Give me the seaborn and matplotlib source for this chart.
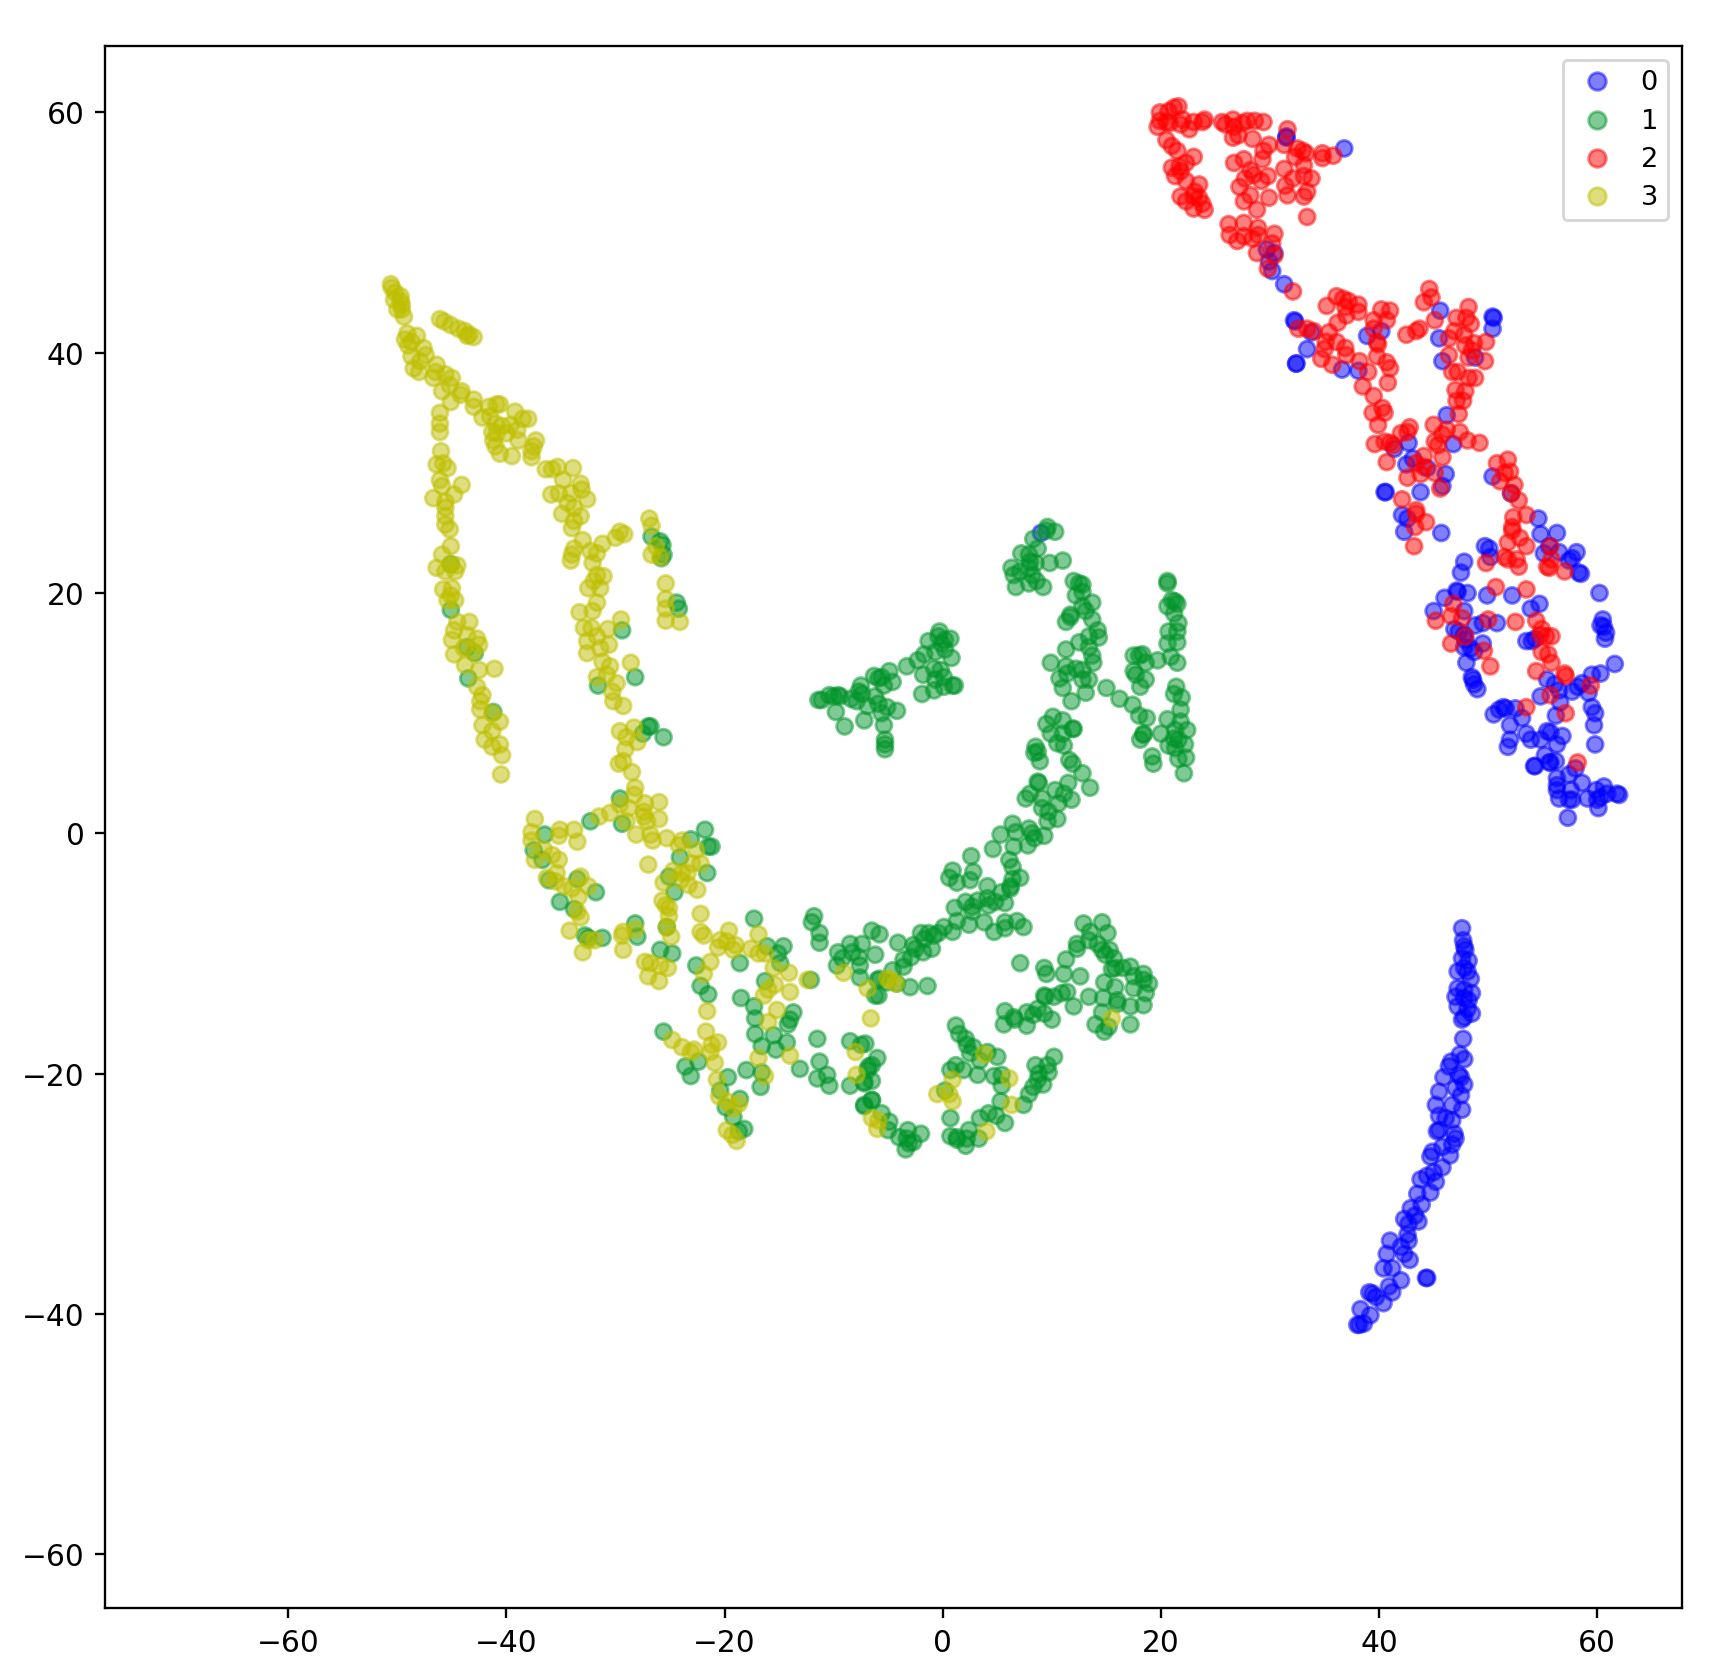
import pandas as pd
import seaborn as sns
import matplotlib.pyplot as plt

# points, one list per class
points_0 = [(31.5,58.0),(31.5,57.9),(36.8,57.0),(29.7,48.6),(30.4,48.3),(29.9,47.6),(30.2,46.8),(31.3,45.7),
    (32.2,42.7),(32.3,42.6),(33.8,41.7),(33.4,40.3),(32.4,39.1),(32.4,39.1),(36.6,38.6),(38.1,38.5),
    (38.9,41.4),(40.2,41.8),(45.6,43.5),(50.4,43.0),(50.5,42.9),(50.4,42.0),(45.5,41.2),(45.8,39.3),(48.8,39.6),(46.2,34.8),
    (42.7,32.5),(41.4,32.0),(46.8,32.4),(43.1,31.2),(42.5,30.7),(44.4,30.4),(46.1,29.9),(45.8,28.9),(43.8,28.4),(40.5,28.4),(40.6,28.4),
    (50.4,29.7),(52.1,28.3),(42.1,26.5),(42.6,26.2),(42.3,25.1),(45.7,25.0),
    (54.6,26.2),(54.8,24.9),(56.3,25.0),(55.6,23.9),(55.1,23.3),(56.5,23.4),(58.1,23.4),(57.4,22.7),(57.7,22.9),(58.5,21.6),(58.3,21.7),
    (49.7,23.9),(50.1,23.7),(50.2,23.0),(47.8,22.6),(47.5,21.7),
    (47.1,20.2),(47.2,20.1),(48.1,20.0),(46.0,19.6),(49.9,19.8),(52.2,19.8),(53.9,18.7),(54.7,19.1),(45.0,18.5),(47.8,18.5),
    (60.2,20.0),(60.5,17.8),(60.3,17.3),(60.6,17.2),(60.8,16.7),(60.7,16.2),(61.6,14.1),
    (48.8,17.3),(49.5,17.5),(50.8,17.5),(46.9,17.0),(47.3,16.8),(47.8,16.5),(47.9,16.1),(49.5,15.8),(47.8,15.5),(48.4,15.4),(48.7,15.1),
    (48.0,14.2),(48.5,13.0),(48.6,12.8),(48.7,12.4),(49.0,12.0),(53.5,16.0),(54.0,16.0),(54.3,16.2),
    (55.4,12.8),(56.1,12.4),(56.5,11.9),(57.7,11.8),(58.2,12.2),(58.6,12.5),(59.5,13.2),(60.3,13.3),(59.2,11.7),(54.8,11.4),(56.6,10.9),(56.2,9.8),
    (50.5,9.9),(51.0,10.3),(51.4,10.5),(51.6,10.4),(52.5,10.4),(53.1,9.6),(52.0,9.0),(52.0,7.8),(51.8,7.2),(53.5,8.3),(53.9,7.8),(54.8,7.8),
    (55.4,8.5),(55.7,8.4),(56.8,8.1),(56.3,7.4),(59.5,10.5),(59.8,10.0),(59.7,9.0),(59.8,7.4),
    (55.2,6.5),(54.2,5.6),(54.3,5.6),(55.6,5.9),(55.7,5.9),(56.2,6.0),(58.0,5.4),(57.4,4.9),(56.3,4.6),(56.3,4.0),(56.3,3.6),(57.6,3.6),(58.6,4.2),
    (56.5,2.9),(57.4,2.8),(57.7,2.8),(59.1,2.9),(59.9,3.6),(60.6,3.9),(60.3,3.0),(60.0,2.8),(60.1,2.1),(60.9,3.3),(61.8,3.3),(62.0,3.2),(57.3,1.3),
    # lower arc
    (47.6,-7.9),(47.7,-8.9),(47.8,-9.4),(47.9,-9.7),(47.6,-10.4),(48.2,-10.6),(47.2,-11.5),(47.8,-11.2),(48.4,-12.1),(48.1,-11.5),
    (47.2,-12.9),(47.8,-13.0),(48.5,-13.3),(47.0,-13.6),(47.8,-13.7),(48.2,-13.9),(47.2,-14.4),(48.1,-14.6),(48.5,-15.0),(47.8,-15.3),(47.6,-15.5),
    (47.7,-17.1),(47.4,-18.4),(47.8,-18.8),(46.6,-19.0),(46.4,-19.4),(45.9,-20.3),(47.3,-20.1),(47.5,-20.3),(47.8,-20.9),(47.0,-21.2),(47.5,-21.8),
    (45.5,-21.5),(45.2,-22.6),(46.7,-22.6),(47.6,-23.0),(45.5,-23.5),(46.1,-23.7),(46.7,-23.9),(45.3,-24.8),(45.5,-24.7),(46.9,-25.0),(47.0,-25.4),
    (46.7,-25.9),(45.8,-26.1),(46.5,-26.8),(44.9,-26.5),(44.7,-26.9),(45.8,-27.8),(45.0,-28.2),(44.4,-28.5),(43.8,-28.8),(45.2,-29.0),(44.7,-29.9),
    (43.5,-30.0),(43.9,-30.9),(42.9,-31.2),(43.3,-31.8),(42.3,-32.1),(43.6,-32.3),(42.7,-32.5),(42.6,-33.4),(41.0,-33.9),(42.7,-33.9),(42.0,-34.4),
    (40.7,-35.0),(42.3,-35.0),(42.8,-35.5),(40.4,-36.2),(41.2,-36.2),(42.0,-37.2),(40.9,-37.7),(39.1,-38.2),(39.4,-38.3),(41.2,-38.2),(39.7,-38.6),
    (40.4,-39.1),(38.3,-39.6),(39.2,-40.1),(38.6,-40.8),(38.0,-40.9),(38.2,-40.9),(44.3,-37.0),(44.4,-37.0),(9.0,25.0)]

points_1 = [(-26.7,24.7),(-25.9,24.3),(-25.7,24.0),(-25.6,23.2),(-25.8,22.9),(-24.4,19.2),(-24.2,18.7),(-45.1,22.4),(-45.1,18.6),(-43.6,15.5),(-42.9,15.0),
    (-43.5,12.9),(-41.2,10.1),(-29.4,16.9),(-28.2,13.0),(-31.6,12.3),(-27.0,8.9),(-26.8,8.9),(-27.5,8.3),(-25.6,8.0),
    (-29.6,2.9),(-32.3,1.0),(-29.4,0.8),(-21.8,0.3),(-23.1,-0.5),(-21.5,-1.1),(-21.2,-1.1),(-24.1,-2.0),(-21.6,-3.3),(-25.1,-3.6),(-24.6,-4.9),
    (-36.5,-0.1),(-37.5,-1.4),(-36.7,-2.2),(-36.1,-3.9),(-33.5,-3.8),(-31.8,-4.9),(-35.1,-5.7),(-33.8,-6.3),(-32.8,-8.5),(-32.5,-8.7),(-31.2,-8.7),
    (-28.2,-7.5),(-28.0,-8.6),(-25.3,-7.8),(-25.9,-9.7),(-24.8,-10.0),(-22.6,-11.0),(-22.2,-12.7),(-21.5,-13.4),(-17.3,-7.1),(-11.8,-6.9),(-12.0,-7.4),
    (-11.3,-8.3),(-11.3,-9.1),(-16.1,-9.4),(-14.6,-9.4),(-15.1,-10.0),(-18.6,-10.8),(-14.9,-10.8),(-16.3,-12.3),(-12.1,-12.2),(-18.5,-13.7),(-17.3,-14.4),
    (-17.2,-15.4),(-13.7,-14.9),(-14.0,-15.5),(-14.2,-15.9),(-25.6,-16.5),(-17.2,-16.7),(-15.5,-16.8),(-16.6,-17.7),(-14.3,-17.4),(-15.3,-18.0),(-11.5,-17.1),
    (-22.4,-19.0),(-23.6,-19.4),(-23.1,-20.2),(-18.0,-19.7),(-16.6,-19.9),(-16.7,-21.1),(-13.1,-19.6),(-11.3,-19.0),(-11.5,-20.4),(-10.6,-20.1),(-10.4,-21.0),
    (-19.7,-20.3),(-20.4,-21.4),(-18.6,-22.1),(-19.9,-22.8),(-19.2,-23.6),(-18.2,-24.6),(-18.7,-24.8),(-8.5,-17.3),(-7.1,-17.5),(-7.5,-17.6),(-6.8,-19.4),
    (-8.5,-21.0),(-7.2,-20.7),(-7.2,-22.6),(-6.5,-22.2),
    (-9.6,-9.9),(-8.5,-9.2),(-7.4,-9.2),(-8.3,-9.9),(-7.7,-10.3),(-9.7,-11.0),(-9.2,-10.4),(-7.6,-11.0),(-6.2,-10.1),(-7.6,-12.0),(-6.0,-12.2),(-6.2,-13.5),
    (-6.5,-8.1),(-5.8,-8.4),(-4.1,-9.1),(-5.8,-12.1),(-5.9,-13.5),(-4.6,-11.4),(-5.1,-12.4),(-4.2,-12.5),(-3.0,-12.8),(-1.4,-12.7),(-3.6,-11.1),(-3.6,-10.5),
    (-2.9,-10.3),(-2.7,-9.3),(-2.5,-9.6),(-1.8,-9.9),(-1.0,-9.6),(-2.0,-8.3),(-1.3,-8.3),(-1.7,-8.8),(-0.8,-8.5),(-0.4,-8.3),(0.1,-7.8),(0.9,-8.2),(1.1,-6.2),
    (1.3,-7.3),(2.1,-5.7),(2.4,-7.6),(2.7,-6.5),(2.7,-6.1),(3.2,-5.6),(3.8,-7.4),(4.1,-4.4),(4.1,-5.4),(4.2,-6.0),(4.8,-5.7),(4.7,-8.2),(5.7,-7.4),(5.7,-7.9),
    (5.7,-5.8),(6.8,-7.3),(7.4,-7.8),(5.4,-4.9),(6.2,-4.4),(7.1,-10.8),
    (12.9,-7.5),(14.6,-7.4),(13.5,-8.2),(15.1,-8.3),(12.3,-9.2),(12.3,-9.6),(13.4,-8.9),(14.2,-9.2),(14.6,-9.7),(15.3,-9.7),(14.9,-10.1),(15.7,-10.4),(15.8,-11.2),
    (16.5,-11.2),(17.2,-11.1),(15.5,-11.3),(17.5,-11.9),(18.4,-11.7),(18.4,-12.2),(18.9,-12.5),(17.5,-12.9),(18.6,-13.3),(18.4,-14.3),(17.2,-14.4),(14.8,-12.4),
    (15.8,-12.8),(14.7,-13.7),(13.4,-13.6),(16.0,-14.2),(16.0,-13.9),(14.6,-14.9),(17.2,-15.9),(14.0,-15.9),(14.8,-16.5),(15.2,-16.1),(11.3,-10.5),(11.1,-11.7),
    (12.6,-11.9),(9.3,-11.2),(9.5,-11.7),(11.4,-13.2),(10.9,-13.3),(10.2,-13.6),(12.0,-14.4),(9.3,-13.5),(9.4,-13.6),(8.7,-14.6),(8.3,-15.1),(10.0,-15.5),(9.3,-15.0),
    (7.7,-14.9),(7.7,-16.0),(5.7,-14.8),(5.6,-15.9),(6.5,-15.3),(6.6,-15.5),
    (-6.0,-18.7),(-6.5,-19.3),(-6.9,-19.7),(-7.2,-20.8),(-6.5,-20.6),(-6.5,-22.2),(-7.2,-22.7),(-5.6,-23.3),(-4.9,-24.0),(-5.0,-24.7),(-4.0,-25.3),(-3.2,-24.7),
    (-2.0,-25.0),(-3.4,-26.3),(-3.1,-25.8),(-2.7,-25.7),(-3.3,-25.4),
    (1.2,-16.0),(1.5,-16.7),(2.1,-17.1),(2.2,-17.6),(2.8,-17.8),(2.5,-18.3),(4.1,-18.2),(5.0,-18.6),(3.4,-18.9),(1.9,-19.7),(1.2,-19.3),(0.7,-19.7),(3.2,-20.1),
    (4.7,-20.2),(5.4,-20.1),(5.4,-21.0),(0.2,-21.4),(5.3,-22.3),(0.7,-23.7),(0.7,-25.2),(1.3,-25.3),(1.3,-25.5),(2.1,-26.0),(2.4,-24.7),(2.2,-25.4),(3.3,-25.4),
    (3.4,-23.7),(4.2,-23.3),(4.9,-23.5),(5.7,-24.1),(7.4,-22.6),(7.9,-21.7),(8.3,-21.1),(8.7,-20.5),(9.2,-20.9),(9.7,-19.9),(8.8,-20.0),(8.5,-19.3),(9.6,-19.3),(10.2,-18.6),
    # middle group
    (-11.4,11.1),(-11.1,11.1),(-10.4,11.5),(-10.0,11.4),(-9.6,11.5),(-9.4,11.4),(-9.8,10.1),(-9.0,8.9),(-8.4,11.2),(-7.9,11.0),(-7.5,12.3),(-7.7,11.8),(-7.4,11.6),
    (-7.2,9.4),(-6.9,10.6),(-6.3,13.1),(-5.9,12.9),(-5.4,12.3),(-6.2,11.4),(-4.9,13.5),(-4.6,12.6),(-5.6,13.0),(-5.9,10.8),(-5.1,10.5),(-5.6,10.0),(-4.2,10.2),
    (-5.4,9.0),(-5.3,7.8),(-5.3,7.4),(-5.3,7.0),(-3.3,13.9),(-2.3,14.4),(-1.7,14.9),(-1.8,13.2),(-1.9,11.6),(-1.3,16.0),(-0.3,16.8),(-0.4,16.4),(0.2,16.1),(0.7,16.2),
    (-0.1,15.8),(-0.7,15.1),(0.2,15.3),(0.8,14.6),(-0.8,13.7),(-0.2,13.6),(0.1,13.0),(-0.7,12.8),(0.1,12.2),(-0.8,11.9),(0.9,12.3),(1.1,12.3),
    # right arm
    (9.6,25.5),(9.5,25.2),(10.3,25.1),(8.3,24.5),(8.7,23.7),(7.2,23.3),(7.9,23.2),(8.5,22.5),(8.0,22.6),(9.8,22.5),(11.0,22.7),(6.3,22.1),(6.5,21.5),(7.1,21.8),(7.9,22.1),
    (6.7,20.5),(7.9,20.8),(8.6,21.0),(9.2,20.5),(8.2,21.5),(12.0,21.0),(12.5,20.8),(12.8,20.7),(12.8,20.1),(12.2,19.8),(13.7,19.2),(12.8,18.9),(13.1,18.5),(11.7,18.2),
    (11.3,17.6),(11.7,18.0),(13.7,17.8),(14.2,16.9),(13.4,16.4),(14.3,16.3),(12.5,15.9),(13.4,15.5),(11.3,15.3),(13.7,14.8),(13.8,14.2),(9.9,14.2),(11.3,13.9),(12.2,13.7),
    (12.8,13.6),(10.7,12.9),(11.4,13.3),(13.4,12.8),(12.8,12.8),(13.1,11.7),(11.0,12.1),(11.8,11.0),(15.0,12.1),(16.2,11.2),(17.4,10.7),(18.0,9.8),(18.7,9.6),(18.4,8.3),
    (18.1,7.8),(18.4,8.2),(19.2,6.4),(19.3,5.8),(17.5,14.8),(18.3,14.9),(18.0,14.8),(18.6,14.2),(17.5,13.5),(17.7,13.2),(18.6,12.8),(18.1,12.2),(19.7,14.4),
    (20.6,21.0),(20.6,20.8),(21.0,19.4),(21.3,19.3),(21.5,19.1),(20.6,18.9),(21.2,18.3),(21.6,17.5),(20.7,16.8),(21.5,16.8),(20.6,15.8),(21.5,15.9),(20.9,14.7),(21.5,14.2),
    (21.4,12.2),(21.2,11.6),(21.9,11.3),(21.8,10.3),(20.6,9.5),(21.8,9.3),(20.0,8.3),(22.4,8.6),(21.3,8.6),(21.2,7.9),(20.7,7.3),(21.6,7.8),(22.2,7.4),(21.3,7.1),(21.6,6.2),
    (22.3,6.3),(22.1,5.0),(9.5,9.1),(10.1,9.7),(11.0,9.4),(11.9,8.7),(12.0,8.7),(9.9,8.3),(11.0,8.3),(10.5,7.5),(11.1,7.3),(8.5,7.2),(8.7,6.8),(8.4,6.7),(8.9,6.0),(11.6,6.1),
    (11.9,5.8),(12.8,5.0),(13.5,3.8),(8.7,4.3),(8.8,4.2),(7.6,2.9),(8.0,3.3),(9.1,2.9),(10.3,3.6),(11.5,4.2),(11.1,3.3),(11.8,2.8),(9.1,2.1),(10.6,2.5),(9.7,1.8),(10.5,1.2),
    (9.6,1.0),(6.4,0.8),(6.7,0.1),(5.3,-0.1),(7.9,0.4),(8.2,0.0),(8.4,-0.4),(9.3,-0.2),(7.8,-1.0),(6.5,-1.1),(4.6,-1.3),(6.1,-2.2),(2.6,-1.9),(6.4,-2.8),(7.1,-3.7),(6.4,-3.8),
    (0.9,-3.1),(2.8,-3.2),(0.6,-3.7),(1.3,-4.1),(2.5,-3.9),(6.2,-4.6)]

points_2 = [(19.9,60.0),(20.7,60.1),(21.2,60.4),(21.6,60.5),(19.7,58.8),(19.9,59.3),(20.5,59.2),(20.8,59.1),(22.0,59.4),(21.8,59.0),(22.6,58.6),(23.0,59.2),(23.8,59.2),(24.0,59.4),
    (25.6,59.2),(25.9,59.0),(26.6,59.4),(26.7,58.8),(27.5,59.1),(27.9,59.3),(28.6,59.3),(29.4,59.2),(26.6,57.9),(27.1,58.1),(28.4,57.8),(31.6,58.6),(31.3,57.3),(29.9,57.3),(29.4,56.8),
    (29.3,56.1),(32.5,57.0),(33.0,56.8),(33.3,56.6),(32.3,56.3),(34.8,56.6),(34.8,56.2),(35.8,56.4),(20.5,57.7),(21.0,57.2),(21.5,56.8),(23.0,56.3),(22.3,55.8),(21.7,55.5),(21.0,55.4),
    (21.8,55.1),(21.3,54.7),(22.3,54.3),(23.5,54.0),(23.1,53.4),(21.8,53.0),(22.3,52.6),(23.0,53.0),(23.5,52.9),(23.8,52.4),(23.0,52.0),(24.0,51.9),
    (26.7,55.8),(27.6,56.1),(28.2,55.2),(28.5,54.8),(27.7,54.5),(29.8,54.7),(29.2,54.3),(27.2,53.8),(28.2,53.1),(27.6,52.6),(29.9,52.9),(28.8,51.9),(31.3,55.3),(33.1,55.6),(32.1,54.5),
    (33.1,54.7),(33.8,54.5),(31.4,53.9),(31.6,53.1),(33.1,53.0),(33.4,53.4),(33.4,51.3),(26.2,50.7),(27.6,50.8),(28.9,50.4),(26.3,49.8),(27.0,49.3),(27.6,49.7),(28.4,49.5),(28.9,49.8),
    (30.4,49.9),(30.2,49.1),(28.8,48.3),(30.4,48.1),(29.8,47.0),(32.1,45.1),
    (44.6,45.3),(44.8,44.6),(44.1,44.2),(36.1,44.7),(35.2,43.9),(36.7,44.5),(37.2,44.3),(38.1,44.0),(38.1,43.4),(36.9,43.8),(37.0,43.1),(36.2,42.5),(40.2,43.6),(41.0,43.5),(39.5,42.7),
    (40.7,42.7),(39.5,42.0),(32.6,42.0),(33.4,42.0),(34.0,41.8),(35.4,41.7),(35.1,40.9),(36.1,40.9),(35.0,40.3),(36.9,40.4),(37.0,39.8),(34.7,39.5),(35.7,39.0),(38.2,39.3),(39.0,38.4),
    (39.8,40.9),(39.9,40.7),(39.8,39.7),(40.7,39.2),(41.0,38.7),(40.8,37.5),(38.5,37.2),(39.5,36.4),(40.3,35.4),(40.5,35.0),(39.4,35.0),(39.9,34.0),
    (42.5,41.5),(43.4,41.8),(43.7,42.0),(45.1,42.7),(47.1,42.9),(48.2,43.8),(48.0,42.9),(48.4,42.4),(46.9,41.8),(46.4,41.2),(47.8,41.5),(49.8,40.9),(48.7,40.8),(47.9,40.6),(46.4,39.8),
    (48.5,40.2),(48.2,39.6),(49.7,39.3),(46.7,38.4),(47.2,38.4),(48.2,37.9),(48.8,37.9),(47.0,36.9),(47.9,36.8),(47.1,36.0),(47.7,36.0),(47.3,34.9),(45.0,34.0),(46.2,33.6),(45.8,33.2),
    (47.4,33.4),(48.1,32.7),(49.2,32.5),(45.1,32.6),(45.4,32.3),(45.8,31.3),(42.8,33.8),(42.6,33.4),(42.0,33.3),(39.6,32.4),(40.5,32.6),(41.0,32.5),(41.3,32.3),(44.1,31.4),(43.4,30.8),
    (44.1,30.5),(40.7,30.9),(42.6,29.6),(43.8,29.9),(45.1,30.0),(45.6,28.7),(42.1,27.8),(43.4,26.9),(43.4,26.6),(44.3,25.9),(43.3,25.5),(43.2,23.9),
    (51.8,31.1),(50.8,30.8),(52.0,30.1),(51.5,30.0),(51.1,29.3),(52.4,29.0),(52.1,28.3),(52.8,27.7),(53.5,26.5),(52.3,26.3),(52.2,25.5),(52.2,25.2),(52.9,24.6),(51.8,24.2),(53.5,23.9),
    (55.7,23.9),(51.5,23.0),(51.8,22.8),(52.6,22.8),(52.8,22.2),(49.8,22.5),(55.8,22.8),(55.4,22.2),(55.6,22.1),(57.0,21.8),
    (50.7,20.5),(53.5,20.3),(46.8,19.1),(46.6,18.1),(47.6,17.9),(45.2,17.7),(50.0,17.8),(52.5,17.6),(54.4,17.7),(54.9,17.0),(54.8,16.5),(55.3,16.4),(55.8,16.4),(47.9,16.4),(46.6,15.8),
    (49.6,15.2),(54.9,15.1),(55.5,14.9),(55.8,14.2),(50.2,13.9),(54.4,13.5),(57.0,13.3),(57.1,13.1),(59.4,12.3),(55.7,11.5),(53.5,10.5),(57.1,10.0),(58.2,5.9)]

points_3 = [(-50.6,45.7),(-50.5,45.4),(-50.2,45.0),(-49.7,44.7),(-50.3,44.4),(-49.7,44.3),(-49.6,44.0),(-50.0,43.6),(-49.6,43.6),(-49.4,43.0),
    (-46.1,42.8),(-45.7,42.6),(-45.1,42.3),(-44.4,42.0),(-43.8,41.8),(-43.4,41.5),(-43.0,41.3),(-43.6,41.4),
    (-49.1,41.6),(-48.2,41.4),(-49.3,41.1),(-48.7,40.9),(-49.0,40.6),(-47.6,40.4),(-48.7,39.7),(-47.4,39.8),(-47.9,39.3),(-48.5,38.7),(-48.0,38.4),(-46.4,39.0),(-46.5,38.4),(-46.7,37.9),
    (-45.6,38.2),(-45.0,37.9),(-45.2,37.3),(-45.9,36.8),(-44.1,36.8),(-44.2,36.5),(-45.1,35.9),(-43.0,36.1),(-43.0,35.5),(-46.1,35.0),(-46.1,34.1),(-46.1,33.4),
    (-42.2,34.6),(-41.6,35.5),(-40.9,35.7),(-40.6,35.7),(-41.5,34.7),(-39.2,35.1),(-38.5,34.5),(-38.0,34.5),(-41.0,34.1),(-40.4,33.9),(-39.6,34.0),(-39.0,33.6),(-41.3,33.4),(-40.9,33.3),
    (-41.2,32.7),(-40.0,33.3),(-38.9,32.7),(-41.0,32.2),(-40.6,31.6),(-39.5,31.4),(-37.3,32.7),(-37.5,32.2),(-37.7,31.8),(-37.7,31.3),
    (-46.0,31.8),(-46.4,30.7),(-45.8,30.8),(-45.4,30.4),(-46.1,29.4),(-44.1,29.0),(-45.9,28.9),(-46.7,27.9),(-44.8,28.2),(-45.6,27.6),(-45.6,27.1),(-45.6,26.4),(-45.6,25.7),(-45.2,25.3),
    (-36.4,30.3),(-35.8,30.3),(-35.3,30.5),(-33.9,30.4),(-34.8,29.4),(-33.2,29.1),(-35.2,28.3),(-35.9,28.2),(-34.1,28.3),(-33.1,28.6),(-32.6,27.8),(-34.4,27.5),(-34.9,26.6),(-33.8,27.1),
    (-33.2,26.4),(-33.8,26.0),(-34.0,25.4),(-33.0,24.4),(-33.8,23.7),(-34.0,23.2),(-34.1,22.7),(-32.3,23.5),(-31.2,24.1),(-30.0,24.6),(-29.6,25.1),(-29.2,24.9),(-31.7,23.3),(-32.1,22.5),
    (-31.7,21.5),(-31.1,21.4),(-32.5,20.4),(-31.4,20.4),(-32.0,21.0),(-31.7,19.2),(-33.3,18.4),(-32.1,18.5),(-32.9,17.1),(-32.2,17.1),(-30.7,17.0),(-31.7,16.4),(-32.6,16.0),(-30.6,15.7),
    (-32.6,15.0),(-31.4,15.4),(-31.2,14.3),(-30.5,13.9),(-31.7,13.0),(-30.8,13.2),(-29.9,12.5),(-30.3,11.8),(-30.2,11.0),(-29.3,10.6),(-29.5,17.8),(-28.6,14.2),
    (-26.9,26.2),(-26.7,25.6),(-26.3,23.9),(-26.7,23.2),(-25.9,23.0),(-25.4,20.8),(-25.4,19.5),(-25.4,18.7),(-25.4,17.7),(-24.1,17.6),
    (-45.1,23.9),(-45.9,23.2),(-44.5,22.3),(-46.4,22.1),(-45.1,22.4),(-45.6,21.8),(-44.7,21.8),(-45.8,20.3),(-45.0,20.4),(-45.1,19.8),(-44.7,19.4),(-45.4,19.4),
    (-43.4,17.6),(-44.5,17.6),(-44.8,16.9),(-45.0,16.1),(-43.6,16.5),(-42.5,15.7),(-42.7,16.2),(-44.8,14.9),(-43.9,15.4),(-43.0,15.1),(-43.8,14.0),(-42.5,13.6),(-41.1,13.7),(-42.7,12.2),
    (-42.2,11.5),(-42.4,11.0),(-42.4,10.3),(-41.3,10.0),(-40.6,9.3),(-42.2,9.0),(-41.3,8.5),(-42.0,7.8),(-40.6,7.4),(-41.3,7.2),(-40.4,6.5),(-40.5,4.9),
    (-29.6,8.5),(-28.3,8.8),(-29.0,8.0),(-28.0,7.6),(-29.1,7.0),(-29.7,5.8),(-29.3,6.0),(-28.5,5.1),
    (-28.2,3.8),(-28.3,3.2),(-26.0,2.6),(-27.3,2.5),(-29.6,2.4),(-28.8,2.1),(-30.5,1.7),(-31.5,1.4),(-27.4,1.8),(-26.0,1.2),(-27.4,1.4),(-27.1,1.0),(-29.0,1.0),(-28.1,-0.1),(-26.8,-0.1),
    (-26.6,-0.6),(-25.3,-0.4),(-23.9,-0.6),(-24.2,-1.0),(-22.6,-1.4),(-27.0,-2.6),
    (-37.4,1.2),(-37.7,0.1),(-37.7,-0.6),(-35.1,0.3),(-35.2,-0.2),(-33.8,0.3),(-33.5,-0.7),(-36.6,-1.3),(-37.4,-2.2),(-35.8,-1.8),(-35.2,-2.2),(-36.3,-3.7),(-35.4,-3.3),(-35.5,-4.0),
    (-34.7,-4.4),(-33.2,-3.6),(-34.0,-4.6),(-32.5,-4.4),(-33.4,-5.3),(-33.5,-6.5),(-33.2,-7.0),(-34.2,-8.1),(-32.5,-8.9),(-31.9,-8.9),(-33.0,-9.9),
    (-29.3,-8.2),(-29.4,-8.5),(-28.2,-8.0),(-29.3,-9.7),(-27.3,-10.7),(-26.8,-10.8),(-25.9,-11.0),(-25.2,-11.2),(-27.0,-11.9),(-26.0,-12.3),
    (-22.2,-6.7),(-22.2,-8.2),(-21.9,-8.5),(-24.7,-3.1),(-23.9,-3.3),(-25.6,-4.1),(-24.0,-3.9),(-23.3,-4.3),(-22.5,-4.7),(-23.0,-2.5),(-22.2,-2.5),(-23.4,-3.3),(-25.7,-5.6),(-25.1,-6.2),
    (-25.4,-6.0),(-25.1,-6.9),(-25.3,-7.8),(-24.9,-8.6),
    (-19.6,-8.1),(-20.4,-8.9),(-20.6,-9.5),(-19.8,-9.0),(-19.0,-9.3),(-19.2,-9.7),(-16.9,-8.4),(-17.6,-9.6),(-16.9,-10.0),(-16.3,-10.0),(-21.3,-10.7),(-21.9,-11.7),(-15.5,-11.2),(-14.1,-11.6),
    (-12.4,-12.2),(-15.4,-12.6),(-16.0,-13.0),(-16.4,-13.5),(-14.0,-13.2),(-21.6,-14.8),(-15.2,-14.7),(-16.0,-15.7),(-21.7,-16.5),(-24.8,-17.2),(-23.9,-17.8),(-22.8,-18.0),(-23.1,-18.2),
    (-20.6,-17.4),(-21.2,-17.6),(-21.3,-18.2),(-20.9,-19.1),(-16.9,-18.7),(-14.0,-18.5),(-20.7,-20.5),(-16.3,-20.2),(-20.5,-21.9),(-19.8,-22.3),(-18.7,-22.5),(-19.2,-22.9),(-19.8,-24.7),
    (-19.3,-25.1),(-18.9,-25.6),
    (-9.1,-11.6),(-6.9,-12.9),(-4.8,-12.2),(-5.1,-12.1),(-4.3,-12.5),(-6.6,-15.4),(-8.0,-18.2),(-7.9,-20.1),(-6.5,-23.7),(-5.9,-23.9),(-6.0,-24.6),(3.8,-18.4),(0.9,-20.5),(-0.5,-21.7),
    (0.6,-21.7),(0.9,-22.3),(6.1,-20.4),(6.3,-22.6),(4.0,-24.8),(15.5,-15.4)]

labels = ['0', '1', '2', '3']
colors = ['b', '#00952a', 'r', 'y']
xticks = [-60, -40, -20, 0, 20, 40, 60]
yticks = [-60, -40, -20, 0, 20, 40, 60]

frames = []
for lab, pts in zip(labels, [points_0, points_1, points_2, points_3]):
    d = pd.DataFrame(pts, columns=['x', 'y'])
    d['label'] = lab
    frames.append(d)
dane = pd.concat(frames, ignore_index=True)

sns.set_style('ticks', {'axes.edgecolor': 'k', 'xtick.color': 'k', 'ytick.color': 'k', 'text.color': 'k'})
plt.rcParams['font.family'] = ['DejaVu Sans']
plt.rcParams['axes.unicode_minus'] = True

f, ax1 = plt.subplots(1, 1, figsize=(1717.4 / 209, 1680.4 / 209), dpi=209)
f.subplots_adjust(left=105 / 1717, right=1682 / 1717, top=1 - 46 / 1680, bottom=1 - 1608 / 1680)

sns.scatterplot(data=dane, x='x', y='y', hue='label', palette=colors, s=30, alpha=0.5,
                edgecolor='face', linewidth=1, ax=ax1)

ax1.set(xlabel=None)
ax1.set(ylabel=None)
ax1.set(xlim=(-76.8, 67.8), ylim=(-64.47, 65.56))
ax1.set_xticks(xticks)
ax1.set_yticks(yticks)
ax1.tick_params(labelsize=10.2)
leg = ax1.legend(loc='upper right', title=None, fontsize=8.4, markerscale=1.1, borderaxespad=0.6)
for t in leg.get_texts():
    t.set_fontsize(9.4)

f.savefig('out.png', dpi=209)
